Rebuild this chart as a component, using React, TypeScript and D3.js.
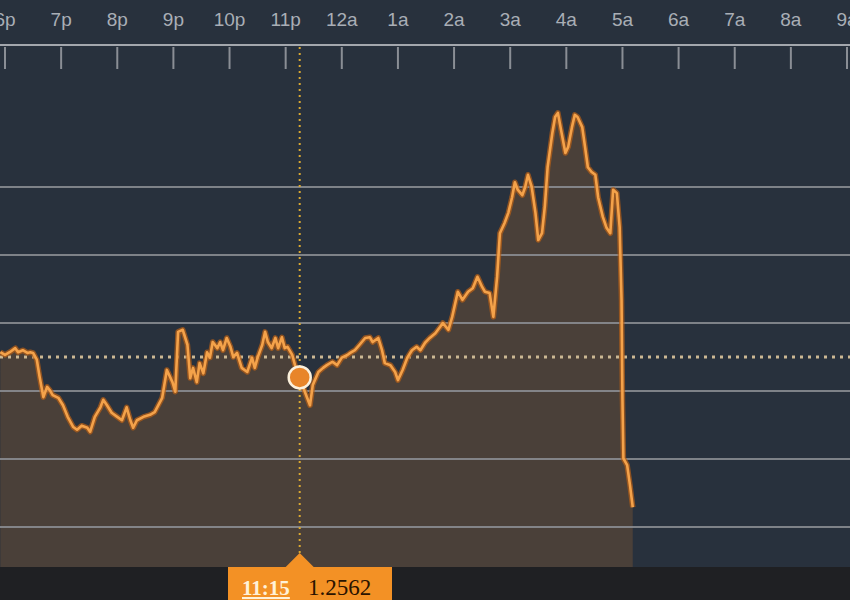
import React from 'react';
import * as d3 from 'd3';

// Hour tick labels, 6p .. 9a (one per hour)
const hourLabels = ["6p", "7p", "8p", "9p", "10p", "11p", "12a", "1a", "2a", "3a", "4a", "5a", "6a", "7a", "8a", "9a"];

// Minutes after 6:00 pm
const minutes = [
  -5, 0, 5, 11, 14, 19, 24, 27, 30, 34, 37, 41, 45, 48, 51, 57, 62, 67, 73, 77,
  82, 88, 91, 96, 102, 105, 109, 114, 120, 125, 130, 134, 137, 141, 148, 155, 160, 168, 173, 179,
  182, 185, 190, 195, 198, 201, 205, 208, 212, 216, 219, 222, 227, 230, 233, 237, 241, 244, 248, 253,
  259, 264, 267, 270, 275, 278, 281, 285, 289, 292, 296, 299, 302, 307, 310, 315, 321, 326, 329, 335,
  340, 344, 350, 355, 360, 366, 369, 374, 379, 385, 390, 393, 399, 403, 406, 412, 417, 420, 425, 430,
  435, 440, 444, 449, 454, 460, 465, 468, 474, 478, 484, 489, 495, 500, 505, 510, 513, 518, 522, 526,
  529, 534, 538, 542, 545, 548, 553, 556, 559, 563, 567, 570, 574, 577, 580, 585, 588, 591, 595, 599,
  602, 606, 609, 612, 617, 620, 623, 627, 631, 634, 639, 643, 647, 650, 654, 657, 659, 660, 661, 665,
  668, 671
];

// Exchange rate at each minute
const rates = [
  1.25657, 1.25653, 1.25657, 1.25663, 1.25657, 1.25660, 1.25656, 1.25657, 1.25656, 1.25646,
  1.25621, 1.25591, 1.25606, 1.25601, 1.25594, 1.25590, 1.25579, 1.25562, 1.25547, 1.25543,
  1.25549, 1.25546, 1.25540, 1.25562, 1.25576, 1.25587, 1.25579, 1.25568, 1.25562, 1.25557,
  1.25576, 1.25557, 1.25546, 1.25557, 1.25562, 1.25565, 1.25569, 1.25590, 1.25631, 1.25613,
  1.25599, 1.25687, 1.25690, 1.25668, 1.25619, 1.25634, 1.25613, 1.25641, 1.25626, 1.25657,
  1.25649, 1.25672, 1.25663, 1.25672, 1.25660, 1.25678, 1.25665, 1.25650, 1.25656, 1.25634,
  1.25628, 1.25649, 1.25634, 1.25649, 1.25668, 1.25687, 1.25672, 1.25663, 1.25678, 1.25663,
  1.25679, 1.25663, 1.25665, 1.25653, 1.25638, 1.25620, 1.25597, 1.25579, 1.25609, 1.25628,
  1.25634, 1.25638, 1.25643, 1.25638, 1.25649, 1.25653, 1.25656, 1.25660, 1.25668, 1.25678,
  1.25679, 1.25672, 1.25678, 1.25660, 1.25641, 1.25638, 1.25628, 1.25616, 1.25631, 1.25649,
  1.25660, 1.25665, 1.25660, 1.25671, 1.25678, 1.25685, 1.25694, 1.25700, 1.25690, 1.25709,
  1.25746, 1.25734, 1.25746, 1.25751, 1.25768, 1.25753, 1.25746, 1.25744, 1.25709, 1.25768,
  1.25832, 1.25847, 1.25862, 1.25885, 1.25907, 1.25896, 1.25888, 1.25900, 1.25918, 1.25900,
  1.25862, 1.25822, 1.25832, 1.25871, 1.25929, 1.25979, 1.26003, 1.26009, 1.25979, 1.25950,
  1.25959, 1.25988, 1.26006, 1.26003, 1.25988, 1.25959, 1.25929, 1.25922, 1.25918, 1.25885,
  1.25856, 1.25840, 1.25832, 1.25896, 1.25891, 1.25841, 1.25734, 1.25587, 1.25501, 1.25491,
  1.25462, 1.25429
];

const gridValues = [1.2540, 1.2550, 1.2560, 1.2570, 1.2580, 1.2590];
const referenceRate = 1.2565;
const cursorMinute = 315;
const cursorRate = 1.2562;
const cursorTimeLabel = "11:15";
const cursorRateLabel = "1.2562";

export default function App() {
  const W = 850;
  const H = 600;
  const plotTop = 45;
  const plotBottom = 567;

  const x = d3.scaleLinear().domain([0, 900]).range([5, 847]);
  const y = d3.scaleLinear().domain([1.2560, 1.2570]).range([391, 323]);

  const data = minutes.map((m, i) => ({ m, v: rates[i] }));
  const area = d3.area<{ m: number; v: number }>()
    .x(d => x(d.m))
    .y0(plotBottom)
    .y1(d => y(d.v));
  const line = d3.line<{ m: number; v: number }>()
    .x(d => x(d.m))
    .y(d => y(d.v));

  const cx = x(cursorMinute);
  const cy = y(cursorRate);
  const refY = y(referenceRate);

  return (
    <svg width={W} height={H} style={{ position: 'absolute', left: 0, top: 0 }}>
      <rect x={0} y={0} width={W} height={H} fill="#28313d" />
      <rect x={0} y={plotBottom} width={W} height={H - plotBottom} fill="#1f2023" />

      {/* area fill */}
      <path d={area(data) || ''} fill="#4a4039" />

      {/* horizontal grid */}
      {gridValues.map(g => (
        <line key={g} x1={0} x2={W} y1={y(g)} y2={y(g)} stroke="#8e9196" strokeWidth={2.2} opacity={0.85} />
      ))}

      {/* top axis */}
      <line x1={0} x2={W} y1={plotTop} y2={plotTop} stroke="#a3a7ad" strokeWidth={2} />
      {hourLabels.map((lab, i) => (
        <g key={lab}>
          <line x1={x(i * 60)} x2={x(i * 60)} y1={plotTop + 2} y2={plotTop + 24} stroke="#8a8e95" strokeWidth={2} />
          <text x={x(i * 60)} y={26} textAnchor="middle" fontFamily="'Liberation Sans', Arial, sans-serif" fontSize={19} fill="#a9aeb6">{lab}</text>
        </g>
      ))}

      {/* reference dotted line */}
      <line x1={0} x2={W} y1={refY} y2={refY} stroke="#cbb894" strokeWidth={3} strokeDasharray="3 5" />

      {/* vertical crosshair */}
      <line x1={cx} x2={cx} y1={plotTop + 2} y2={plotBottom} stroke="#d9a832" strokeWidth={2} strokeDasharray="2 4" />

      {/* price line */}
      <path d={line(data) || ''} fill="none" stroke="#b85f16" strokeWidth={5.5} strokeLinejoin="round" opacity={0.7} />
      <path d={line(data) || ''} fill="none" stroke="#f4a24a" strokeWidth={2.6} strokeLinejoin="round" />

      {/* marker */}
      <circle cx={cx} cy={cy} r={11} fill="#e8852a" stroke="#fbf0dc" strokeWidth={2.5} />

      {/* bottom label */}
      <path d={`M${cx - 14},${plotBottom} L${cx},${plotBottom - 14} L${cx + 14},${plotBottom} Z`} fill="#f39125" />
      <rect x={228} y={plotBottom} width={164} height={H - plotBottom} fill="#f39125" />
      <text x={242} y={595} fontFamily="'Liberation Serif', 'Times New Roman', serif" fontSize={21} fontWeight="bold" fill="#fff1d8" textDecoration="underline">{cursorTimeLabel}</text>
      <text x={308} y={595} fontFamily="'Liberation Serif', 'Times New Roman', serif" fontSize={23} fill="#2a1300">{cursorRateLabel}</text>
    </svg>
  );
}
